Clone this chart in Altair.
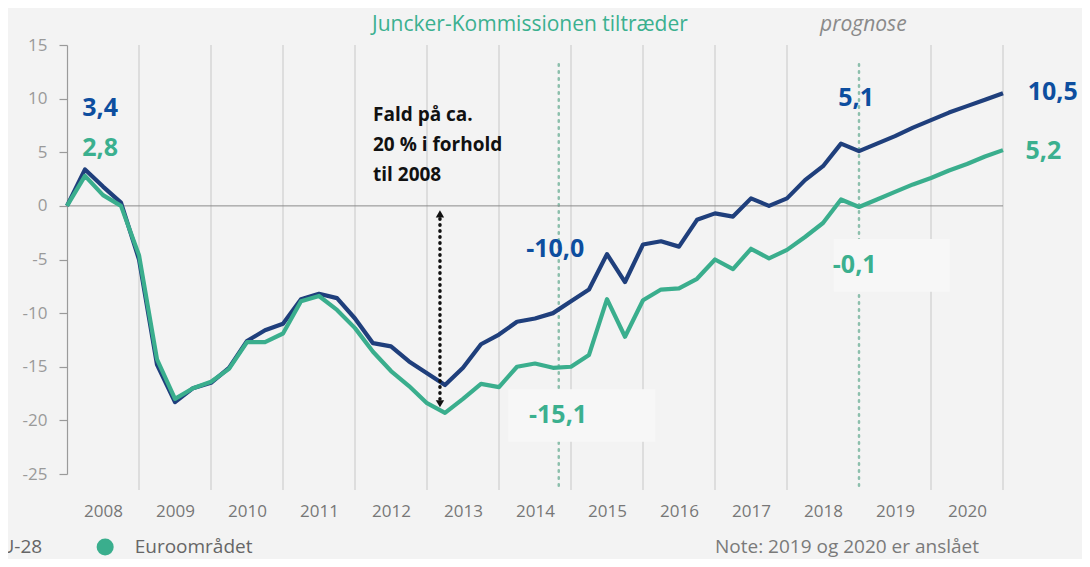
import altair as alt
import pandas as pd

# ---------------- data ----------------
quarters = [f"{2008 + i // 4}K{i % 4 + 1}" for i in range(53)]

eu28 = [0.0, 3.4, 1.8, 0.3, -5.0, -14.8, -18.3, -17.0, -16.5, -15.1,
        -12.6, -11.6, -11.0, -8.7, -8.2, -8.6, -10.5, -12.8, -13.1, -14.5,
        -15.6, -16.7, -15.1, -12.9, -12.0, -10.8, -10.5, -10.0, -8.9, -7.8,
        -4.5, -7.1, -3.6, -3.3, -3.8, -1.3, -0.7, -1.0, 0.7, 0.0,
        0.7, 2.4, 3.7, 5.8, 5.1, 5.8, 6.5, 7.3, 8.0, 8.7,
        9.3, 9.9, 10.5]

euro = [0.0, 2.8, 1.0, 0.0, -4.6, -14.3, -18.0, -17.0, -16.4, -15.2,
        -12.7, -12.7, -11.9, -8.9, -8.4, -9.7, -11.4, -13.6, -15.4, -16.8,
        -18.4, -19.3, -18.0, -16.6, -16.9, -15.0, -14.7, -15.1, -15.0, -13.9,
        -8.7, -12.2, -8.8, -7.8, -7.7, -6.8, -5.0, -5.9, -4.0, -4.9,
        -4.1, -2.9, -1.6, 0.6, -0.1, 0.6, 1.3, 2.0, 2.6, 3.3,
        3.9, 4.6, 5.2]

series_names = ["EU-28", "Euroområdet"]
year_labels = list(range(2008, 2021))
y_ticks = [-25, -20, -15, -10, -5, 0, 5, 10, 15]
grid_years = [2009, 2010, 2011, 2012, 2013, 2014, 2015, 2016, 2017, 2018, 2020, 2021]

# value labels
blue_label_text = ["3,4", "-10,0", "5,1", "10,5"]
blue_label_t = [2008.46, 2014.78, 2018.96, 2021.69]
blue_label_v = [9.1, -4.0, 10.1, 10.6]
green_label_text = ["2,8", "-15,1", "-0,1", "5,2"]
green_label_t = [2008.46, 2014.82, 2018.94, 2021.56]
green_label_v = [5.4, -19.5, -5.5, 5.1]

# events
event_names = ["Juncker-Kommissionen tiltræder", "prognose"]
event_t = [2014.83, 2019.0]

note_text = "Note: 2019 og 2020 er anslået"
annotation_text = "Fald på ca.\n20 % i forhold\ntil 2008"

# ---------------- helpers ----------------
def qyear(q):
    y, k = q.split("K")
    return int(y) + (int(k) - 1) / 4

t = [qyear(q) for q in quarters]
df = pd.DataFrame({
    "t": t * 2,
    "value": eu28 + euro,
    "series": [series_names[0]] * len(t) + [series_names[1]] * len(t),
})

BLUE_LINE = "#1f3f7c"
GREEN_LINE = "#3aae8d"
BLUE_TXT = "#0d4e9f"
GREEN_TXT = "#3bb08f"
FONT = "Open Sans"
BOTTOM_Y = -31.8
TOP_Y = 16.85

xs = alt.Scale(domain=[2008, 2021], nice=False, zero=False)
ys = alt.Scale(domain=[-25, 15], nice=False, zero=False)
cs = alt.Scale(domain=series_names, range=[BLUE_LINE, GREEN_LINE])

# gridlines
grid = alt.Chart(pd.DataFrame({"g": grid_years})).mark_rule(
    color="#d6d6d6", strokeWidth=1.5
).encode(
    x=alt.X("g:Q", scale=xs),
    y=alt.datum(15, scale=ys),
    y2=alt.datum(-26.5),
)

ev_df = pd.DataFrame({"t": event_t, "name": event_names})
events = alt.Chart(ev_df).mark_rule(
    color="#8cbfac", strokeWidth=2.5, strokeDash=[1.5, 5.5], strokeCap="round"
).encode(
    x=alt.X("t:Q", scale=xs),
    y=alt.datum(13.2, scale=ys),
    y2=alt.datum(-26.5),
)

boxes = alt.Chart(pd.DataFrame({
    "x1": [2014.13, 2018.65], "x2": [2016.17, 2020.26],
    "y1": [-17.1, -3.1], "y2": [-22.0, -8.0],
})).mark_rect(color="#f7f7f7").encode(
    x=alt.X("x1:Q", scale=xs), x2="x2:Q",
    y=alt.Y("y1:Q", scale=ys), y2="y2:Q",
)

zero = alt.Chart(pd.DataFrame({"a": [2008], "b": [2021]})).mark_rule(
    color="#8a8a8a", strokeWidth=1
).encode(
    x=alt.X("a:Q", scale=xs), x2="b:Q", y=alt.datum(0, scale=ys)
)

lines = alt.Chart(df).mark_line(strokeWidth=4.2, strokeJoin="round").encode(
    x=alt.X("t:Q", scale=xs, title=None,
            axis=alt.Axis(values=[y + 0.5 for y in year_labels],
                          labelExpr="toString(floor(datum.value))",
                          domain=False, ticks=False, grid=False,
                          labelFont=FONT, labelFontSize=17, labelColor="#777777",
                          labelPadding=29)),
    y=alt.Y("value:Q", scale=ys, title=None,
            axis=alt.Axis(values=y_ticks, labelExpr="toString(datum.value)",
                          domainColor="#9a9a9a", domainWidth=1.2,
                          tickColor="#9a9a9a", tickSize=8, tickWidth=1.2,
                          grid=False, labelFont=FONT, labelFontSize=17,
                          labelColor="#9a9a9a", labelPadding=12)),
    color=alt.Color("series:N", scale=cs, legend=None),
    order=alt.Order("t:Q"),
    detail="series:N",
)

# legend (drawn below the plot, first entry partly outside the page as in the reference)
leg_df = pd.DataFrame({
    "dot_t": [2006.53, 2008.53],
    "txt_t": [2006.93, 2008.94],
    "y": [BOTTOM_Y, BOTTOM_Y],
    "series": series_names,
})
leg_dots = alt.Chart(leg_df).mark_circle(size=290, opacity=1).encode(
    x=alt.X("dot_t:Q", scale=xs), y=alt.Y("y:Q", scale=ys),
    color=alt.Color("series:N", scale=cs, legend=None),
)
leg_txt = alt.Chart(leg_df).mark_text(
    font=FONT, fontSize=19, color="#666666", align="left", baseline="middle"
).encode(x=alt.X("txt_t:Q", scale=xs), y=alt.Y("y:Q", scale=ys), text="series:N")

blue_lab = alt.Chart(pd.DataFrame({"t": blue_label_t, "v": blue_label_v, "txt": blue_label_text})).mark_text(
    font=FONT, fontSize=25, fontWeight="bold", color=BLUE_TXT, align="center", baseline="middle"
).encode(x=alt.X("t:Q", scale=xs), y=alt.Y("v:Q", scale=ys), text="txt:N")

green_lab = alt.Chart(pd.DataFrame({"t": green_label_t, "v": green_label_v, "txt": green_label_text})).mark_text(
    font=FONT, fontSize=25, fontWeight="bold", color=GREEN_TXT, align="center", baseline="middle"
).encode(x=alt.X("t:Q", scale=xs), y=alt.Y("v:Q", scale=ys), text="txt:N")

# arrow annotation
arrow_x = 2013.18
arrow = alt.Chart(pd.DataFrame({"x": [arrow_x], "a": [-1.2], "b": [-18.0]})).mark_rule(
    color="#111111", strokeWidth=3.5, strokeDash=[0.5, 5.5], strokeCap="round"
).encode(x=alt.X("x:Q", scale=xs), y=alt.Y("a:Q", scale=ys), y2="b:Q")

heads = alt.Chart(pd.DataFrame({
    "x": [arrow_x, arrow_x], "y": [-0.75, -18.45], "shape": ["triangle-up", "triangle-down"]
})).mark_point(filled=True, color="#111111", size=70, opacity=1).encode(
    x=alt.X("x:Q", scale=xs), y=alt.Y("y:Q", scale=ys),
    shape=alt.Shape("shape:N", scale=None, legend=None),
)

fald = alt.Chart(pd.DataFrame({"x": [2012.25], "y": [8.5], "txt": [annotation_text]})).mark_text(
    font=FONT, fontSize=19, fontWeight="bold", color="#111111", align="left",
    baseline="middle", lineBreak="\n", lineHeight=30
).encode(x=alt.X("x:Q", scale=xs), y=alt.Y("y:Q", scale=ys), text="txt:N")

juncker_txt = alt.Chart(pd.DataFrame({"x": [2014.43], "y": [TOP_Y], "txt": [event_names[0]]})).mark_text(
    font=FONT, fontSize=21, color=GREEN_TXT, align="center", baseline="middle"
).encode(x=alt.X("x:Q", scale=xs), y=alt.Y("y:Q", scale=ys), text="txt:N")

prog_txt = alt.Chart(pd.DataFrame({"x": [2019.06], "y": [TOP_Y], "txt": [event_names[1]]})).mark_text(
    font=FONT, fontSize=21, fontStyle="italic", color="#8a8a8a", align="center", baseline="middle"
).encode(x=alt.X("x:Q", scale=xs), y=alt.Y("y:Q", scale=ys), text="txt:N")

note_txt = alt.Chart(pd.DataFrame({"x": [2017.0], "y": [BOTTOM_Y], "txt": [note_text]})).mark_text(
    font=FONT, fontSize=19, color="#7a7a7a", align="left", baseline="middle"
).encode(x=alt.X("x:Q", scale=xs), y=alt.Y("y:Q", scale=ys), text="txt:N")

chart = alt.layer(
    grid, events, boxes, zero, lines, arrow, heads,
    blue_lab, green_lab, fald, juncker_txt, prog_txt, note_txt, leg_dots, leg_txt
).properties(
    width=936, height=429,
    autosize=alt.AutoSizeParams(type="none"),
    padding={"left": 59, "top": 37, "right": 79, "bottom": 85},
    background="#f3f3f3",
).configure_view(stroke=None)

chart.save("out.html", embed_options={"renderer": "svg", "actions": False})
